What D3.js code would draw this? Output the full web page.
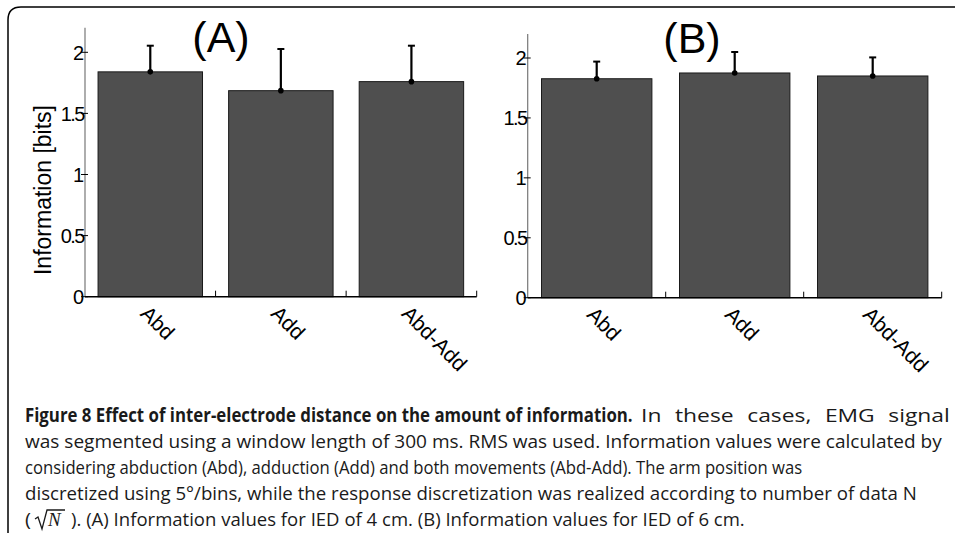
<!DOCTYPE html>
<html><head><meta charset="utf-8">
<script src="https://cdn.jsdelivr.net/npm/d3@7/dist/d3.min.js"></script>
<style>
html,body{margin:0;padding:0;background:#fff;}
svg{display:block;}
</style></head>
<body>
<script>
// ---- data ----
const categories = ["Abd", "Add", "Abd-Add"];
const valuesA = [1.84, 1.686, 1.76];
const errTopA = [2.054, 2.027, 2.054];
const valuesB = [1.827, 1.875, 1.85];
const errTopB = [1.97, 2.05, 2.005];
const yTicks = [0, 0.5, 1, 1.5, 2];
const yTickLabels = ["0", "0.5", "1", "1.5", "2"];
const panelTitles = ["(A)", "(B)"];
const yLabel = "Information [bits]";
const captionBold = "Figure 8 Effect of inter-electrode distance on the amount of information.";
const captionLines = [
  "In these cases, EMG signal",
  "was segmented using a window length of 300 ms. RMS was used. Information values were calculated by",
  "considering abduction (Abd), adduction (Add) and both movements (Abd-Add). The arm position was",
  "discretized using 5°/bins, while the response discretization was realized according to number of data N",
  "). (A) Information values for IED of 4 cm. (B) Information values for IED of 6 cm."
];

const W = 955, H = 537;
const svg = d3.select("body").append("svg").attr("width", W).attr("height", H);

// frame
svg.append("path")
  .attr("d", "M8,533 L8,20 Q8,7 21,7 L955,7")
  .attr("fill", "none").attr("stroke", "#000").attr("stroke-width", 1.5);

const panels = [
  {vals: valuesA, errs: errTopA, x0: 85, x1: 476.7, y0: 296.7, y2: 52.3, title: panelTitles[0], tx: 221, ty: 52, ylab: true},
  {vals: valuesB, errs: errTopB, x0: 527.7, x1: 941.7, y0: 297.7, y2: 58.0, title: panelTitles[1], tx: 692, ty: 53, ylab: false}
];

const font = "Liberation Sans, Arial, Helvetica, sans-serif";

panels.forEach(p => {
  const g = svg.append("g");
  const x = d3.scaleBand().domain(categories).range([p.x0, p.x1]).paddingInner(0.2).paddingOuter(0.1);
  const y = d3.scaleLinear().domain([0, 2]).range([p.y0, p.y2]);
  const yTop = y(2.2);

  // bars
  g.selectAll("rect.bar").data(categories).enter().append("rect")
    .attr("x", d => x(d)).attr("width", x.bandwidth())
    .attr("y", (d, i) => y(p.vals[i])).attr("height", (d, i) => y(0) - y(p.vals[i]))
    .attr("fill", "#4f4f4f").attr("stroke", "#1a1a1a").attr("stroke-width", 1);

  // error bars
  categories.forEach((c, i) => {
    const cx = x(c) + x.bandwidth() / 2;
    g.append("line").attr("x1", cx).attr("x2", cx).attr("y1", y(p.vals[i])).attr("y2", y(p.errs[i]))
      .attr("stroke", "#000").attr("stroke-width", 2.2);
    g.append("line").attr("x1", cx - 3.5).attr("x2", cx + 3.5).attr("y1", y(p.errs[i])).attr("y2", y(p.errs[i]))
      .attr("stroke", "#000").attr("stroke-width", 2);
    g.append("circle").attr("cx", cx).attr("cy", y(p.vals[i])).attr("r", 2.8).attr("fill", "#000");
  });

  // y axis
  g.append("line").attr("x1", p.x0).attr("x2", p.x0).attr("y1", yTop).attr("y2", y(0))
    .attr("stroke", "#777").attr("stroke-width", 1.2);
  yTicks.forEach((t, i) => {
    g.append("line").attr("x1", p.x0 - 4).attr("x2", p.x0 + 3).attr("y1", y(t)).attr("y2", y(t))
      .attr("stroke", "#000").attr("stroke-width", 1);
    g.append("text").attr("x", p.x0 - 1).attr("y", y(t)).attr("dy", "0.36em")
      .attr("text-anchor", "end").attr("font-family", font).attr("font-size", 20)
      .attr("letter-spacing", t === 0.5 || t === 1.5 ? -1.5 : 0)
      .text(yTickLabels[i]);
  });

  // x axis
  g.append("line").attr("x1", p.x0).attr("x2", p.x1).attr("y1", y(0)).attr("y2", y(0))
    .attr("stroke", "#000").attr("stroke-width", 1.5);
  const step = x.step();
  [1, 2, 3].forEach(k => {
    const tx = p.x0 + k * step;
    g.append("line").attr("x1", tx).attr("x2", tx).attr("y1", y(0)).attr("y2", y(0) - 6)
      .attr("stroke", "#000").attr("stroke-width", 1);
  });
  categories.forEach(c => {
    const cx = x(c) + x.bandwidth() / 2;
    const ax = cx - 11, ay = y(0) + 18;
    g.append("text").attr("transform", `translate(${ax},${ay}) rotate(45)`)
      .attr("font-family", font).attr("font-size", 21).text(c);
  });

  // title
  g.append("text").attr("x", p.tx).attr("y", p.ty).attr("text-anchor", "middle")
    .attr("font-family", font).attr("font-size", 43).text(p.title);

  if (p.ylab) {
    g.append("text").attr("transform", `translate(51,190) rotate(-90)`)
      .attr("text-anchor", "middle").attr("font-family", font).attr("font-size", 23).text(yLabel);
  }
});

// caption
const capFont = "Open Sans, Noto Sans, sans-serif";
const cap = svg.append("g").attr("font-family", capFont).attr("font-size", 19).attr("fill", "#1a1a1a");
const baselines = [422, 448, 474, 500, 526];
const lineEnds = [950, 942, 803, 917, 745];

function fitText(txt, x0, x1, yb, bold, fixedScale) {
  const t = cap.append("text").attr("x", 0).attr("y", 0).text(txt);
  if (bold) t.attr("font-weight", "bold");
  const w = t.node().getComputedTextLength();
  let s = (x1 - x0) / w;
  if (fixedScale) {
    s = fixedScale;
    const nSp = (txt.match(/ /g) || []).length;
    const extra = ((x1 - x0) / s - w) / Math.max(1, nSp);
    t.attr("word-spacing", extra);
  }
  t.attr("transform", `translate(${x0},${yb}) scale(${s},1)`);
  return s;
}
fitText(captionBold, 25, 633, baselines[0], true);
const sRef = fitText(captionLines[1], 25, lineEnds[1], baselines[1], false);
fitText(captionLines[0], 641, lineEnds[0], baselines[0], false, sRef * 1.2);
fitText(captionLines[2], 25, lineEnds[2], baselines[2], false);
fitText(captionLines[3], 25, lineEnds[3], baselines[3], false);

// last line with sqrt(N)
fitText("(", 25, 31, baselines[4], false);
cap.append("path").attr("d", `M35,${baselines[4]-7} L38,${baselines[4]-9} L42,${baselines[4]+3} L47,${baselines[4]-16} L65,${baselines[4]-16}`)
  .attr("fill", "none").attr("stroke", "#1a1a1a").attr("stroke-width", 1.3);
cap.append("text").attr("x", 48).attr("y", baselines[4]).attr("font-family", "Liberation Serif, serif")
  .attr("font-style", "italic").attr("font-size", 19).text("N");
fitText(captionLines[4], 71, lineEnds[4], baselines[4], false);
</script>
</body></html>
